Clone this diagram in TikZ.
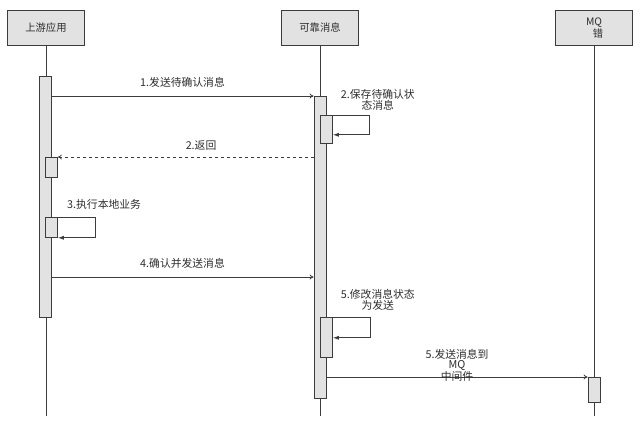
\documentclass[tikz,border=0pt]{standalone}
\usepackage{fontspec}
\setmainfont{Noto Sans CJK SC}
\usetikzlibrary{arrows.meta,positioning,calc}
\definecolor{SeqLine}{RGB}{60,60,60}
\definecolor{SeqFill}{RGB}{226,226,226}
\definecolor{SeqText}{RGB}{45,45,45}

\begin{document}
\begin{tikzpicture}[
  x=1pt, y=-1pt,
  head/.style={draw=SeqLine, line width=1pt, fill=SeqFill, text=SeqText, align=center,
    font=\fontsize{10.3}{10.5}\selectfont, minimum width=77pt, minimum height=35pt, inner sep=1pt},
  act/.style={draw=SeqLine, line width=0.8pt, fill=SeqFill, minimum width=12pt, inner sep=0pt},
  life/.style={draw=SeqLine, line width=0.8pt},
  lbl/.style={text=SeqText, font=\fontsize{10.8}{11.5}\selectfont, align=center, inner sep=1pt},
  msg/.style={-{To[length=4pt,width=5pt]}, line width=0.8pt, draw=SeqLine},
  ret/.style={-{To[length=4pt,width=5pt]}, dashed, line width=0.8pt, draw=SeqLine},
  selfloop/.style={-{Latex[length=6pt,width=4pt]}, line width=0.8pt, draw=SeqLine}
]
\useasboundingbox (0,0) rectangle (642,422);
% lifelines
\node[head] (up) at (46,28) {上游应用};
\node[head] (rel) at (320,28) {可靠消息};
\node[head] (mq) at (594,28) {MQ\\\hspace*{8pt}错};
\coordinate (bottom) at (0,416);
\draw[life] (up) -- (up |- bottom);
\draw[life] (rel) -- (rel |- bottom);
\draw[life] (mq) -- (mq |- bottom);
% activations
\node[act, anchor=north, minimum height=241pt] (upAct) at (45,76) {};
\node[act, anchor=north west, minimum height=20pt] (upRet) at (45,157) {};
\node[act, anchor=north west, minimum height=20pt] (upExec) at (45,217) {};
\node[act, anchor=north, minimum height=302pt] (relAct) at (320,96) {};
\node[act, anchor=north west, minimum height=28pt] (relSave) at (320,115) {};
\node[act, anchor=north west, minimum height=40pt] (relMod) at (320,317) {};
\node[act, anchor=north, minimum height=25pt] (mqAct) at (594,377) {};
% messages
\draw[msg] (relAct.north west -| upAct.east) -- node[lbl, above=7pt] {1.发送待确认消息} (relAct.north west);
\draw[selfloop] (relSave.north east) -- ++(37,0)
  node[lbl, above=3pt, xshift=8pt] {2.保存待确认状\\态消息}
  |- ([yshift=9pt]relSave.south east);
\draw[ret] (upRet.north east -| relAct.west) -- node[lbl, above=5pt, pos=0.44] {2.返回} (upRet.north east);
\draw[selfloop] (upExec.north east) -- node[lbl, pos=0, anchor=south west, xshift=8pt, yshift=6pt] {3.执行本地业务} ++(38,0)
  |- (upExec.south east);
\coordinate (m4) at (0,277);
\draw[msg] (m4 -| upAct.east) -- node[lbl, above=7pt] {4.确认并发送消息} (m4 -| relAct.west);
\draw[selfloop] (relMod.north east) -- ++(38,0)
  node[lbl, above=5pt, xshift=7pt] {5.修改消息状态\\为发送}
  |- ([yshift=20pt]relMod.south east);
\draw[msg] (mqAct.north west -| relAct.east) -- node[lbl, above=-6pt, font=\fontsize{10.8}{10.5}\selectfont] {5.发送消息到\\MQ\\中间件} (mqAct.north west);
\end{tikzpicture}
\end{document}
